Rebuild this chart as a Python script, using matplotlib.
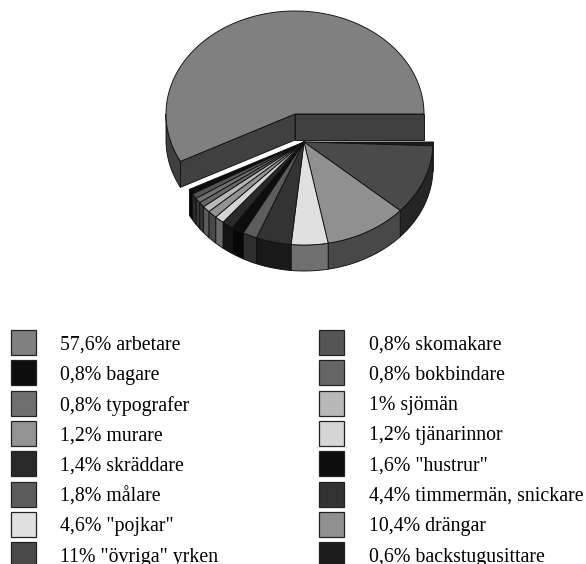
import numpy as np
import matplotlib
matplotlib.use("Agg")
import matplotlib.pyplot as plt
from matplotlib.patches import Polygon, Rectangle

plt.rcParams['font.family'] = ['Liberation Serif', 'DejaVu Serif']

# legend, column by column
left_labels = ['57,6% arbetare', '0,8% bagare', '0,8% typografer', '1,2% murare',
               '1,4% skräddare', '1,8% målare', '4,6% "pojkar"', '11% "övriga" yrken']
left_greys = [128, 13, 112, 147, 42, 92, 224, 74]
right_labels = ['0,8% skomakare', '0,8% bokbindare', '1% sjömän', '1,2% tjänarinnor',
                '1,6% "hustrur"', '4,4% timmermän, snickare', '10,4% drängar', '0,6% backstugusittare']
right_greys = [85, 102, 184, 213, 13, 51, 144, 28]

# big slice, pulled away from the rest
big_share = 57.6
big_grey = 128

# remaining slices, clockwise from east
pie_shares = [0.6, 11, 10.4, 4.6, 4.4, 1.8, 1.6, 1.4, 1.2, 1.2, 1, 0.8, 0.8, 0.8, 0.8]
pie_greys = [28, 74, 144, 224, 51, 92, 13, 42, 213, 147, 184, 102, 112, 85, 13]

RX, RY, DEPTH = 129, 103, 26
EDGE = dict(edgecolor='#111111', linewidth=0.65, joinstyle='round')


def arc(cx, cy, t0, t1):
    t = np.radians(np.linspace(t0, t1, max(int(abs(t1 - t0) * 2), 2)))
    return np.column_stack([cx + RX * np.cos(t), cy + RY * np.sin(t)])


def grey(v):
    return (v / 255, v / 255, v / 255)


def add_poly(ax, pts, v):
    ax.add_patch(Polygon(pts, closed=True, facecolor=grey(v), **EDGE))


def draw_side(ax, cx, cy, t0, t1, v):
    # outer wall, only the part facing the viewer
    t0, t1 = max(t0, 0), min(t1, 180)
    if t1 <= t0:
        return
    top = arc(cx, cy, t0, t1)
    add_poly(ax, np.vstack([top, top[::-1] + [0, DEPTH]]), v)


def draw_wedge(ax, cx, cy, t0, t1, v):
    add_poly(ax, np.vstack([[cx, cy], arc(cx, cy, t0, t1)]), v)


fig = plt.figure(figsize=(5.86, 5.64), dpi=100)
ax = fig.add_axes([0, 0, 1, 1])
ax.set_xlim(0, 586)
ax.set_ylim(564, 0)
ax.axis('off')

# big slice
cx, cy = 295, 114
start = 360 - big_share * 3.6
draw_side(ax, cx, cy, start, 180, big_grey // 2)
end_pt = arc(cx, cy, start, start + 1)[0]
add_poly(ax, [[cx, cy], end_pt, end_pt + [0, DEPTH], [cx, cy + DEPTH]], big_grey // 2)
east_pt = arc(cx, cy, 0, 1)[0]
add_poly(ax, [[cx, cy], east_pt, east_pt + [0, DEPTH], [cx, cy + DEPTH]], big_grey // 2)
draw_wedge(ax, cx, cy, start, 360, big_grey)

# the other slices
cx, cy = 304, 142
edges = np.concatenate([[0], np.cumsum(pie_shares)]) * 3.6
for i, v in enumerate(pie_greys):
    draw_side(ax, cx, cy, edges[i], edges[i + 1], v // 2)
for i, v in enumerate(pie_greys):
    draw_wedge(ax, cx, cy, edges[i], edges[i + 1], v)

# legend
for sx, tx, labels, greys in [(11, 60, left_labels, left_greys), (319, 369, right_labels, right_greys)]:
    for row, (label, v) in enumerate(zip(labels, greys)):
        y = 330 + row * 30.3
        ax.add_patch(Rectangle((sx, y), 25, 25, facecolor=grey(v), edgecolor='#222222', linewidth=0.9))
        ax.text(tx, y + 15, label, fontsize=14.3, va='center', ha='left', color='black')

fig.savefig('out.png', dpi=100)
